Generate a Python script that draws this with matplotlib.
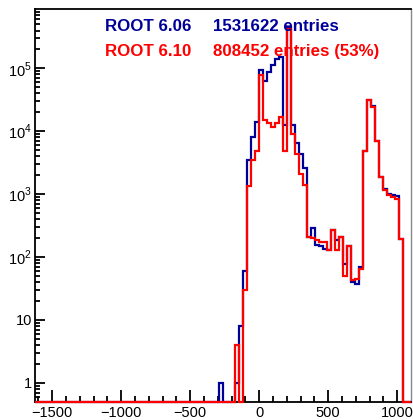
import numpy as np
import matplotlib
matplotlib.use("Agg")
import matplotlib.pyplot as plt
from matplotlib.ticker import FixedLocator, NullFormatter

plt.rcParams['font.family'] = ['Liberation Sans', 'DejaVu Sans']
plt.rcParams['mathtext.fontset'] = 'custom'
plt.rcParams['mathtext.rm'] = 'Liberation Sans'

# ---- data ----
bin_start = -290.0     # left edge of first listed bin
bin_width = 29.0
x_range = (-1627, 1096)
y_range = (0.5, 8.8e5)

counts_606 = [1, 0, 0, 0, 1, 8, 60, 3550, 8000, 14000,
              95000, 64000, 88000, 115000, 140000, 150000, 12500, 450000, 12500, 6400,
              4300, 2600, 208, 290, 153, 148, 136, 131, 273, 184,
              208, 78, 148, 40, 37.6, 69,
              4800, 32000, 25000, 7100, 1900, 1200, 1000, 960, 950, 196]
counts_610 = [0, 0, 0, 0, 4, 0, 30, 1330, 3550, 4800,
              78000, 15000, 13300, 11500, 13300, 16600, 4800, 420000, 9000, 4300,
              2120, 1390, 208, 200, 189, 172, 172, 131, 273, 128,
              208, 49, 148, 43.6, 45, 65,
              4800, 31300, 24500, 6970, 1880, 1170, 960, 900, 850, 196]

labels = ["ROOT 6.06", "ROOT 6.10"]
entries = ["1531622 entries", "808452 entries (53%)"]
colors = ["#000099", "#ff0000"]

x_major = [-1500, -1000, -500, 0, 500, 1000]
y_major = [1, 10, 100, 1000, 10000, 100000]
y_major_labels = ["1", "10", "$10^{2}$", "$10^{3}$", "$10^{4}$", "$10^{5}$"]

# ---- figure ----
W, H = 413, 420
fig = plt.figure(figsize=(W / 100, H / 100), dpi=100)
ax = fig.add_axes([34.7 / W, 1 - 401.7 / H, (410.5 - 34.7) / W, (401.7 - 9) / H])
ax.set_yscale('log')
ax.set_xlim(*x_range)
ax.set_ylim(*y_range)

for vals, col in zip([counts_606, counts_610], colors):
    v = np.asarray(vals, dtype=float)
    edges = bin_start + bin_width * np.arange(len(v) + 1)
    full_edges = np.concatenate([[x_range[0]], edges, [x_range[1]]])
    full_vals = np.concatenate([[0], v, [0]])
    disp = np.where(full_vals > 0, full_vals, y_range[0])
    ax.stairs(disp, full_edges, baseline=None, color=col, lw=1.6,
              zorder=3, clip_on=False)

# axes styling
for s in ['left', 'bottom', 'top']:
    ax.spines[s].set_linewidth(1.3)
    ax.spines[s].set_color('black')
ax.spines['right'].set_linewidth(1.0)
ax.spines['right'].set_color('#888888')

ax.xaxis.set_major_locator(FixedLocator(x_major))
ax.xaxis.set_minor_locator(FixedLocator(np.arange(-1600, 1100, 100)))
ax.set_xticklabels([str(v).replace('-', '\u2212') for v in x_major])
ax.yaxis.set_major_locator(FixedLocator(y_major))
minor_y = [m * 10.0 ** e for e in range(-1, 6) for m in range(2, 10)]
ax.yaxis.set_minor_locator(FixedLocator(minor_y))
ax.yaxis.set_minor_formatter(NullFormatter())
ax.set_yticklabels(y_major_labels)

ax.tick_params(axis='x', which='major', direction='in', length=8.4, width=1.3,
               labelsize=10.5, pad=3, top=False)
ax.tick_params(axis='x', which='minor', direction='in', length=4.2, width=1.3, top=False)
ax.tick_params(axis='y', which='major', direction='in', length=7.2, width=1.3,
               labelsize=10.5, pad=2, right=False)
ax.tick_params(axis='y', which='minor', direction='in', length=3.6, width=1.3, right=False)

# legend texts
ys = [30.7, 55.7]
for lab, ent, col, yb in zip(labels, entries, colors, ys):
    fig.text(105 / W, 1 - yb / H, lab, color=col, fontsize=12.2, fontweight='bold',
             va='baseline', ha='left')
    fig.text(213.3 / W, 1 - yb / H, ent, color=col, fontsize=12.2, fontweight='bold',
             va='baseline', ha='left')

fig.savefig("out.png", dpi=100)
